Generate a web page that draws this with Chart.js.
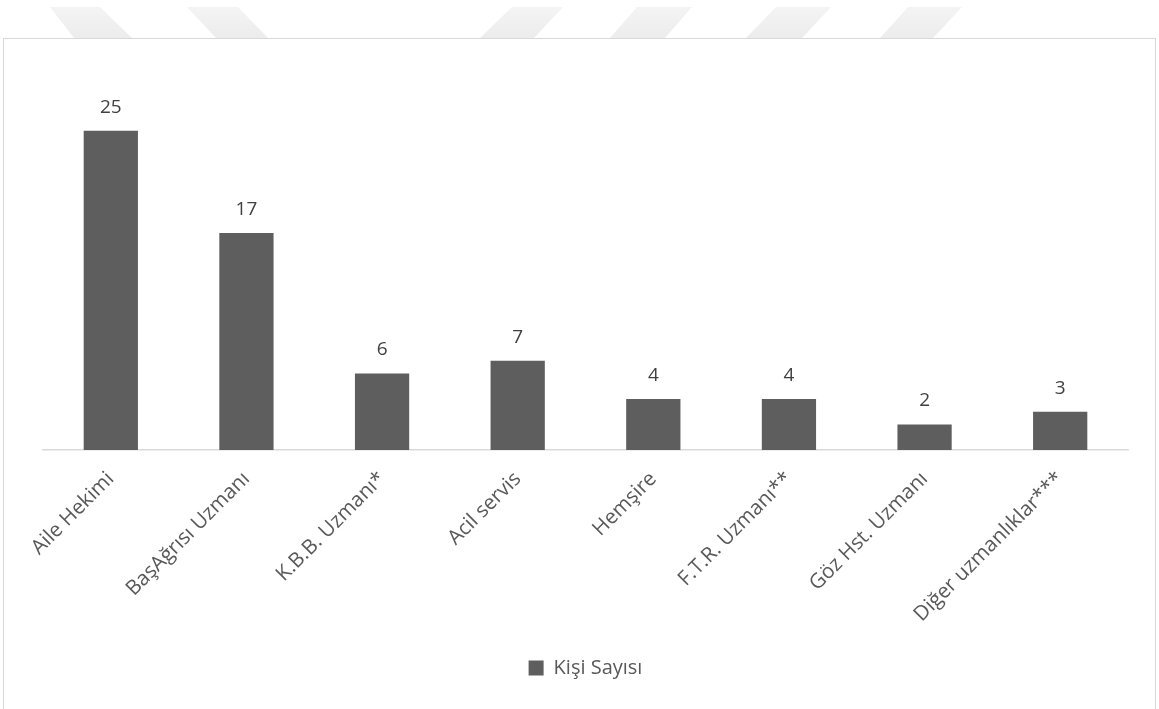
<!DOCTYPE html>
<html><head><meta charset="utf-8">
<script src="https://cdn.jsdelivr.net/npm/chart.js@4/dist/chart.umd.min.js"></script>
<style>
html,body{margin:0;padding:0;background:#fff;width:1159px;height:709px;overflow:hidden}
#frame{position:absolute;left:3px;top:38px;width:1151px;height:700px;border:1.5px solid #d9d9d9}
#wrap{position:absolute;left:0;top:0;width:1159px;height:709px}
</style></head><body>
<div id="frame"></div>
<div id="wrap"><canvas id="c" width="1159" height="709"></canvas></div>
<script>
const categories = ["Aile Hekimi","BaşAğrısı Uzmanı","K.B.B. Uzmanı*","Acil servis","Hemşire","F.T.R. Uzmanı**","Göz Hst. Uzmanı","Diğer uzmanlıklar***"];
const kisiSayisi = [25,17,6,7,4,4,2,3];
const seriesName = "Kişi Sayısı";

const watermark = {
  id:'watermark',
  beforeDraw(chart){
    const ctx = chart.ctx;
    ctx.save();
    const g = ctx.createLinearGradient(0,7,0,38);
    g.addColorStop(0,'#f4f4f4');
    g.addColorStop(1,'#ececec');
    ctx.fillStyle = g;
    const shapes = [
      [[50,7],[100,7],[132,38],[74,38]],
      [[187,7],[238,7],[268,38],[216,38]],
      [[512,7],[563,7],[534,38],[480,38]],
      [[637,7],[692,7],[665,38],[610,38]],
      [[776,7],[831,7],[802,38],[746,38]],
      [[908,7],[962,7],[933,38],[880,38]]
    ];
    shapes.forEach(s=>{ctx.beginPath();ctx.moveTo(s[0][0],s[0][1]);for(let i=1;i<s.length;i++)ctx.lineTo(s[i][0],s[i][1]);ctx.closePath();ctx.fill();});
    ctx.restore();
  }
};
const valueLabels = {
  id:'valueLabels',
  afterDatasetsDraw(chart){
    const ctx = chart.ctx;
    const meta = chart.getDatasetMeta(0);
    ctx.save();
    ctx.font = '19px "Open Sans"';
    ctx.fillStyle = '#404040';
    ctx.textAlign = 'center';
    ctx.textBaseline = 'alphabetic';
    meta.data.forEach((bar,i)=>{
      ctx.fillText(String(chart.data.datasets[0].data[i]), bar.x, bar.y - 18);
    });
    ctx.restore();
  }
};

new Chart(document.getElementById('c'),{
  type:'bar',
  data:{labels:categories,datasets:[{label:seriesName,data:kisiSayisi,backgroundColor:'#5e5e5e',borderWidth:0,categoryPercentage:1,barPercentage:0.4}]},
  options:{
    responsive:false,animation:false,
    layout:{padding:{left:43,right:31,top:67,bottom:21}},
    plugins:{
      legend:{position:'bottom',labels:{font:{family:'"Open Sans"',size:20},color:'#595959',boxWidth:15,boxHeight:15,padding:10}},
      tooltip:{enabled:false}
    },
    scales:{
      y:{display:false,min:0,max:30},
      x:{
        grid:{display:false,drawTicks:false},
        border:{color:'#d9d9d9',width:1.5},
        ticks:{font:{family:'"Open Sans"',size:20.5},color:'#595959',maxRotation:45,minRotation:45,padding:17,autoSkip:false},
        afterFit(s){s.height=198;}
      }
    }
  },
  plugins:[watermark,valueLabels]
});
</script>
</body></html>
